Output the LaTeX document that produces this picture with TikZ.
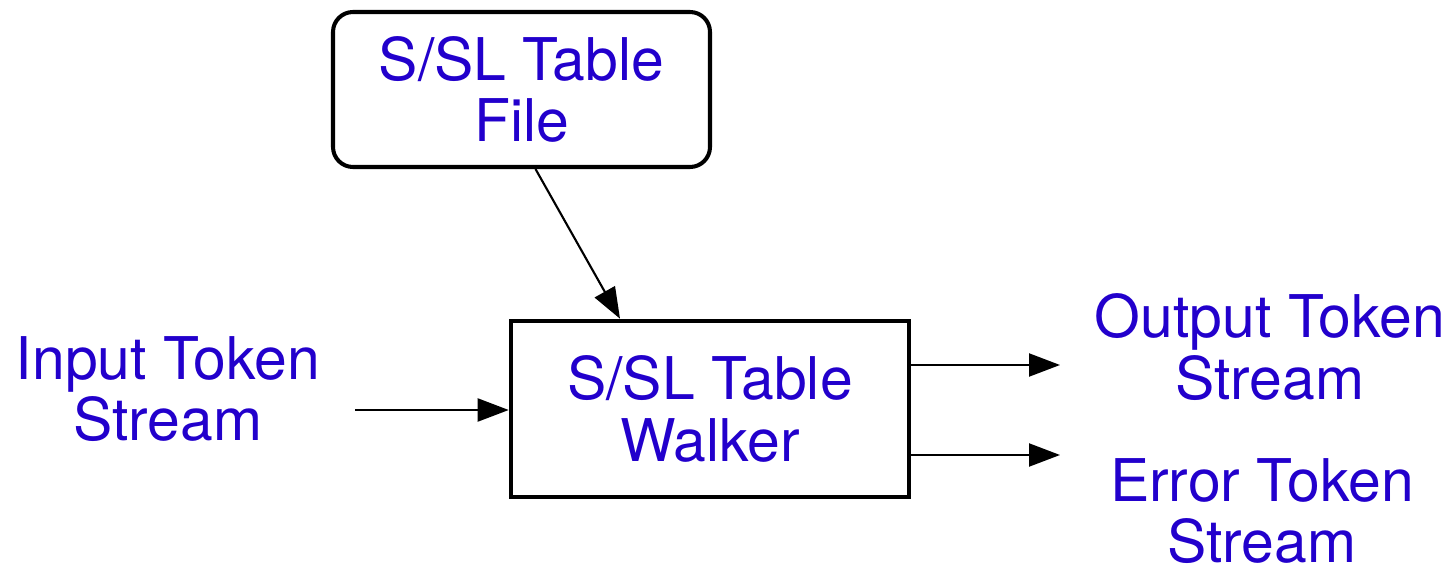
\documentclass[tikz,border=0pt]{standalone}
\usepackage{fontspec}
\setmainfont{TeX Gyre Heros}
\usepackage{tikz}
\usetikzlibrary{positioning, calc, arrows.meta}
\definecolor{labelblue}{HTML}{2200CC}

\begin{document}
\begin{tikzpicture}
    [font=\fontsize{33.5}{35}\selectfont,
    label/.style={text=labelblue, align=center, inner sep=0pt},
    roundbox/.style={rectangle, rounded corners=0.4cm, draw=black, line width=2.3pt, minimum width=7.54cm, minimum height=3.1cm, label},
    squarebox/.style={rectangle, draw=black, line width=2.6pt, minimum width=7.96cm, minimum height=3.52cm, label},
    flow/.style={line width=1.2pt, -{Triangle[length=0.62cm, width=0.46cm]}},]
    \useasboundingbox (0,0) rectangle (29.1,11.34);

    %Nodes
    \node[roundbox](file) at (10.43,9.55){S/SL Table\\File};
    \node[squarebox](walker) at (14.2,3.16){S/SL Table\\Walker};

    \node[label](input) at (3.36,3.56){Input Token\\Stream};
    \node[label](output) at (25.4,4.4){Output Token\\Stream};
    \node[label](error) at (25.24,1.12){Error Token\\Stream};

    \coordinate(in) at (7.1,3.14);
    \coordinate(outend) at (21.2,4.04);
    \coordinate(errend) at (21.2,2.24);

    %Lines
    \draw[flow]([xshift=0.28cm]file.south)--([xshift=-1.8cm]walker.north);
    \draw[flow](in)--(in -| walker.west);
    \draw[flow](outend -| walker.east)--(outend);
    \draw[flow](errend -| walker.east)--(errend);
\end{tikzpicture}
\end{document}
